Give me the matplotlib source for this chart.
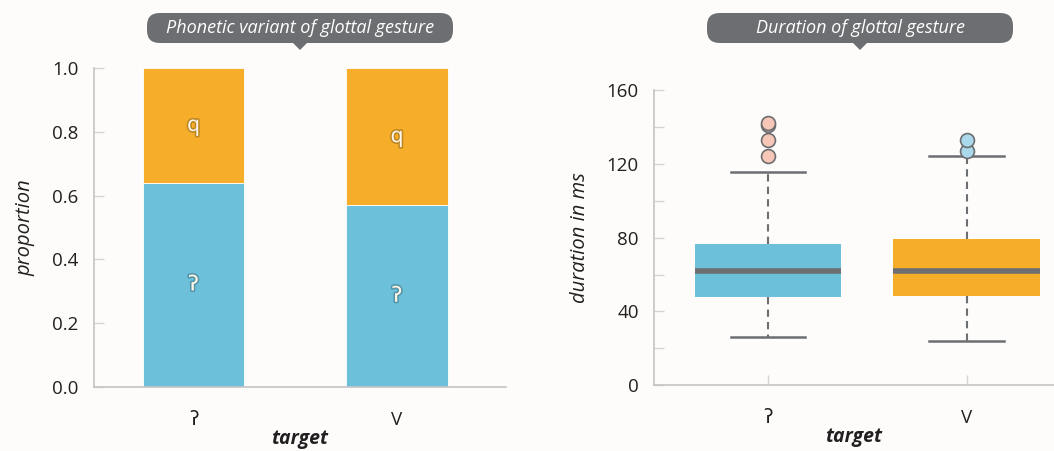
import matplotlib
matplotlib.use("Agg")
import matplotlib.pyplot as plt
import matplotlib.patheffects as pe
from matplotlib.patches import FancyBboxPatch, Polygon

plt.rcParams['font.family'] = ['Open Sans', 'DejaVu Sans']

# ---- data ----
targets = ["ʔ", "V"]
variants = ["ʔ", "q"]
prop_glottal = [0.64, 0.57]          # share realised as glottal stop
prop_q = [1 - p for p in prop_glottal]  # remainder realised as creak (q)

# duration box statistics (ms)
dur_q1 = [48, 48.5]
dur_med = [62, 62]
dur_q3 = [76.5, 79.5]
dur_whislo = [26, 24]
dur_whishi = [115.5, 124]
dur_fliers = [[124, 133, 141, 142], [127, 133]]

blue = "#6cc0d9"
orange = "#f6ae2a"
grey = "#6d6e71"
axis_grey = "#c4c4c4"
text_dark = "#231f20"
bg = "#fdfcfb"
flier_faces = ["#f6c6b6", "#a9d9ea"]

fig = plt.figure(figsize=(10.54, 4.51), dpi=100, facecolor=bg)
W, H = 1054, 451


def fig_rect(x0, y0, x1, y1):
    return [x0 / W, 1 - y1 / H, (x1 - x0) / W, (y1 - y0) / H]


def style_axes(ax):
    ax.set_facecolor(bg)
    for s in ("top", "right"):
        ax.spines[s].set_visible(False)
    for s in ("left", "bottom"):
        ax.spines[s].set_color(axis_grey)
        ax.spines[s].set_linewidth(1.2)
    ax.tick_params(axis="both", which="both", direction="in", length=7,
                   width=1, color="#d4d4d4", labelcolor=text_dark,
                   labelsize=13.5)
    ax.tick_params(axis="y", pad=11)
    ax.tick_params(axis="x", pad=17)
    ax.set_axisbelow(True)


def banner(cx, text):
    x0, x1, y0, y1 = cx - 153, cx + 153, 13, 43
    box = FancyBboxPatch((x0 / W, 1 - y1 / H), (x1 - x0) / W, (y1 - y0) / H,
                         boxstyle="round,pad=0,rounding_size=0.012",
                         transform=fig.transFigure, facecolor=grey,
                         edgecolor="none", mutation_aspect=W / H)
    fig.patches.append(box)
    tri = Polygon([((cx - 8) / W, 1 - 42 / H), ((cx + 8) / W, 1 - 42 / H),
                   (cx / W, 1 - 50 / H)], closed=True,
                  transform=fig.transFigure, facecolor=grey, edgecolor="none")
    fig.patches.append(tri)
    fig.text(cx / W, 1 - 28 / H, text, color="white", style="italic",
             fontsize=13, ha="center", va="center")


# ---- left panel: stacked proportions ----
ax1 = fig.add_axes(fig_rect(94, 68, 506, 387))
style_axes(ax1)
xs = range(len(targets))
ax1.bar(xs, prop_glottal, width=0.5, color=blue, edgecolor="white",
        linewidth=0.6)
ax1.bar(xs, prop_q, bottom=prop_glottal, width=0.5, color=orange,
        edgecolor="white", linewidth=0.6)
label_fx = [pe.withStroke(linewidth=2.4, foreground=(0, 0, 0, 0.22))]
for i in xs:
    ax1.text(i, prop_glottal[i] / 2, variants[0], ha="center", va="center",
             color="#fdf6e8", fontsize=15, path_effects=label_fx)
    ax1.text(i, prop_glottal[i] + prop_q[i] / 2, variants[1], ha="center",
             va="center", color="#fdf6e8", fontsize=15, path_effects=label_fx)
ax1.set_xlim(-0.489, 1.536)
ax1.set_ylim(0, 1.0)
ax1.set_yticks([0, 0.2, 0.4, 0.6, 0.8, 1.0])
ax1.set_yticklabels(["0.0", "0.2", "0.4", "0.6", "0.8", "1.0"])
ax1.set_xticks(list(xs))
ax1.set_xticklabels(targets)
ax1.set_ylabel("proportion", style="italic", fontsize=14.5, color=text_dark,
               labelpad=12)
ax1.set_xlabel("target", style="italic", fontweight="bold", fontsize=14,
               color=text_dark, labelpad=0)

# ---- right panel: durations ----
ax2 = fig.add_axes(fig_rect(654, 90, 1054, 385.3))
style_axes(ax2)
stats = []
for i in range(len(targets)):
    stats.append(dict(q1=dur_q1[i], med=dur_med[i], q3=dur_q3[i],
                      whislo=dur_whislo[i], whishi=dur_whishi[i],
                      fliers=dur_fliers[i], label=targets[i]))
box_colors = [blue, orange]
for i, st in enumerate(stats):
    ax2.bxp([st], positions=[i], widths=0.74, patch_artist=True,
            showfliers=True,
            boxprops=dict(facecolor=box_colors[i], edgecolor="none"),
            medianprops=dict(color=grey, linewidth=4, solid_capstyle="butt"),
            whiskerprops=dict(color=grey, linewidth=1.5, linestyle=(0, (3.5, 2.5))),
            capprops=dict(color=grey, linewidth=1.8),
            capwidths=0.375,
            flierprops=dict(marker="o", markersize=10,
                            markerfacecolor=flier_faces[i],
                            markeredgecolor=grey, markeredgewidth=1.2))
ax2.set_xlim(-0.574, 1.44)
ax2.set_ylim(0, 160)
ax2.set_yticks([0, 40, 80, 120, 160])
ax2.set_yticks([20, 60, 100, 140], minor=True)
ax2.set_xticks(range(len(targets)))
ax2.set_xticklabels(targets)
ax2.set_ylabel("duration in ms", style="italic", fontsize=14.5,
               color=text_dark, labelpad=12)
ax2.set_xlabel("target", style="italic", fontweight="bold", fontsize=14,
               color=text_dark, labelpad=0)

banner(300, "Phonetic variant of glottal gesture")
banner(860, "Duration of glottal gesture")

fig.savefig("out.png", dpi=100, facecolor=bg)
